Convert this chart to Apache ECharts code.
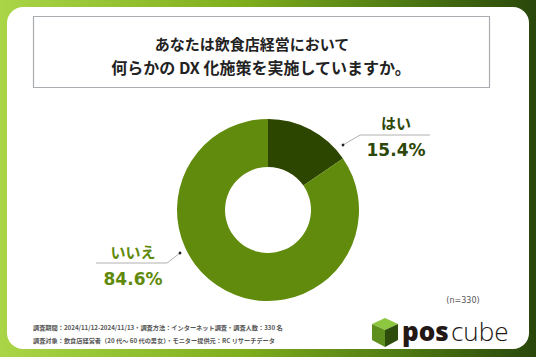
<!DOCTYPE html>
<html>
<head>
<meta charset="utf-8">
<script src="https://cdn.jsdelivr.net/npm/echarts@6/dist/echarts.min.js"></script>
<style>
html,body{margin:0;padding:0;width:536px;height:357px;overflow:hidden;}
#c{width:536px;height:357px;}
</style>
</head>
<body>
<div id="c"></div>
<script>
const categories = ['はい', 'いいえ'];
const values = [15.4, 84.6];
const sampleNote = '(n=330)';
const titleLines = ['あなたは飲食店経営において', '何らかの DX 化施策を実施していますか。'];
const footerLines = [
  '調査期間：2024/11/12-2024/11/13・調査方法：インターネット調査・調査人数：330 名',
  '調査対象：飲食店経営者（20 代～ 60 代の男女）・モニター提供元：RC リサーチデータ'
];

const sliceColors = ['#2c4600', '#618b0c'];
const labelColors = ['#2d4708', '#5f8a0b'];
const JP = '"Noto Sans CJK JP", sans-serif';
const NUM = '"DejaVu Sans", "Noto Sans CJK JP", sans-serif';

const chart = echarts.init(document.getElementById('c'), null, {renderer: 'svg'});

const labelPos = [
  {x: 396, y: 136, line: [[343, 145], [360, 135], [430, 135]]},
  {x: 133, y: 265, line: [[180, 253], [167, 263], [96, 263]]}
];

chart.setOption({
  animation: false,
  backgroundColor: {
    type: 'linear', x: 0, y: 0, x2: 1, y2: 0,
    colorStops: [
      {offset: 0, color: '#a9d546'},
      {offset: 0.45, color: '#7fae1c'},
      {offset: 0.75, color: '#4e7a12'},
      {offset: 1, color: '#29470b'}
    ]
  },
  graphic: [
    {type: 'rect', z: 0, shape: {x: 7, y: 7, width: 522, height: 342, r: 16}, style: {fill: '#ffffff'}},
    {type: 'rect', z: 1, shape: {x: 33.5, y: 16.5, width: 456, height: 71}, style: {fill: '#ffffff', stroke: '#a9acb0', lineWidth: 1.2}},
    {type: 'text', z: 3, style: {x: 252, y: 43, text: titleLines[0], fill: '#222222', font: 'bold 15px ' + JP, textAlign: 'center', textVerticalAlign: 'middle'}},
    {type: 'text', z: 3, style: {x: 261, y: 67, text: titleLines[1], fill: '#222222', font: 'bold 16px ' + JP, textAlign: 'center', textVerticalAlign: 'middle'}},
    {type: 'text', z: 3, style: {x: 463, y: 300, text: sampleNote, fill: '#555555', font: '8px ' + NUM, textAlign: 'center', textVerticalAlign: 'middle'}},
    {type: 'text', z: 3, style: {x: 33, y: 327, text: footerLines[0], fill: '#555555', font: 'bold 6.2px ' + JP, textAlign: 'left', textVerticalAlign: 'middle'}},
    {type: 'text', z: 3, style: {x: 33, y: 340, text: footerLines[1], fill: '#555555', font: 'bold 6.2px ' + JP, textAlign: 'left', textVerticalAlign: 'middle'}},
    {type: 'circle', z: 5, shape: {cx: 343, cy: 145, r: 1.4}, style: {fill: '#222'}},
    {type: 'circle', z: 5, shape: {cx: 180, cy: 253, r: 1.4}, style: {fill: '#222'}},
    // logo cube
    {type: 'polygon', z: 3, shape: {points: [[385, 318], [398, 324], [385, 330], [372, 324]]}, style: {fill: '#8dc63f'}},
    {type: 'polygon', z: 3, shape: {points: [[372, 324], [385, 330], [385, 347], [372, 340]]}, style: {fill: '#5e8e1c'}},
    {type: 'polygon', z: 3, shape: {points: [[385, 330], [398, 324], [398, 340], [385, 347]]}, style: {fill: '#2e4d0d'}},
    {type: 'text', z: 3, style: {x: 402, y: 331, text: 'pos', fill: '#231815', font: '800 26px "Open Sans", sans-serif', textAlign: 'left', textVerticalAlign: 'middle'}},
    {type: 'text', z: 3, style: {x: 451, y: 331, text: 'cube', fill: '#231815', font: '300 26px "Open Sans", sans-serif', textAlign: 'left', textVerticalAlign: 'middle'}}
  ],
  series: [{
    type: 'pie',
    z: 2,
    silent: true,
    center: [268, 210],
    radius: [43, 91],
    startAngle: 90,
    clockwise: true,
    data: categories.map((c, i) => ({
      name: c, value: values[i],
      itemStyle: {color: sliceColors[i]},
      label: {rich: {
        n: {fontSize: 15, fontWeight: 'bold', fontFamily: JP, color: labelColors[i], lineHeight: 28, align: 'center'},
        v: {fontSize: 17, fontWeight: 'bold', fontFamily: NUM, color: labelColors[i], lineHeight: 28, align: 'center'}
      }}
    })),
    label: {
      show: true,
      position: 'outside',
      formatter: p => '{n|' + p.name + '}\n{v|' + p.value + '%}'
    },
    labelLine: {show: true, lineStyle: {color: '#b0b0b0', width: 1}},
    labelLayout: p => ({
      x: labelPos[p.dataIndex].x,
      y: labelPos[p.dataIndex].y,
      align: 'center',
      verticalAlign: 'middle',
      labelLinePoints: labelPos[p.dataIndex].line
    })
  }]
});
</script>
</body>
</html>
